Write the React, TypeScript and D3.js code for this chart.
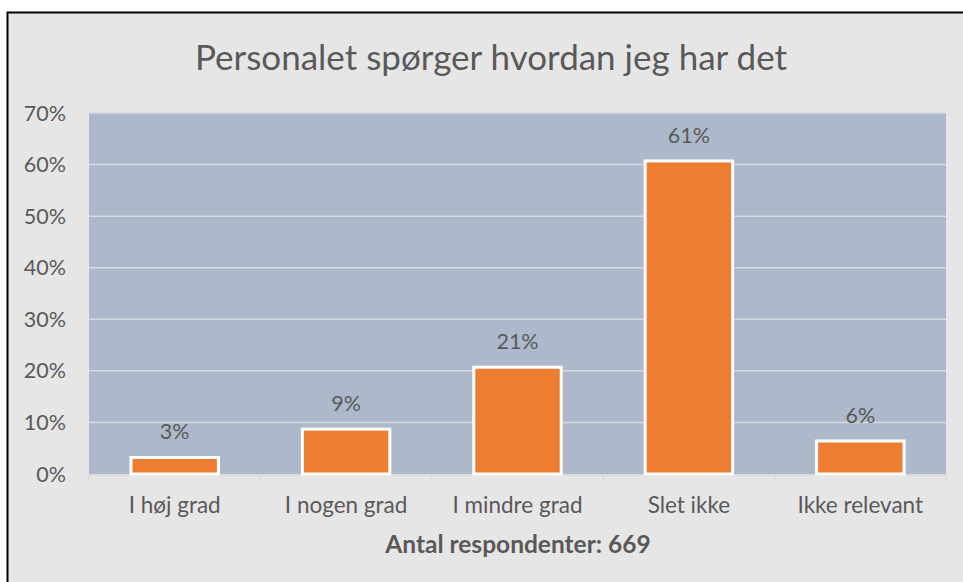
import React, { useEffect, useRef } from 'react';
import * as d3 from 'd3';

const categories = ['I høj grad', 'I nogen grad', 'I mindre grad', 'Slet ikke', 'Ikke relevant'];
const values = [0.032, 0.087, 0.207, 0.607, 0.064];
const yTicks = [0, 0.1, 0.2, 0.3, 0.4, 0.5, 0.6, 0.7];
const title = 'Personalet spørger hvordan jeg har det';
const xTitle = 'Antal respondenter: 669';

const App = () => {
  const chartRef = useRef<SVGSVGElement>(null);

  useEffect(() => {
    const width = 963;
    const height = 582;
    const margin = { top: 113, right: 17, bottom: 108, left: 89 };
    const font = 'Lato, "Open Sans", sans-serif';
    const textColor = '#595959';

    const svg = d3.select(chartRef.current);
    svg.selectAll('*').remove();

    // chart frame
    svg
      .append('rect')
      .attr('x', 7.5)
      .attr('y', 12.5)
      .attr('width', width)
      .attr('height', height)
      .attr('fill', '#e7e6e6')
      .attr('stroke', '#000')
      .attr('stroke-width', 2);

    const x = d3
      .scaleBand()
      .domain(categories)
      .range([margin.left, width - margin.right])
      .paddingInner(0.49)
      .paddingOuter(0.245);

    const y = d3
      .scaleLinear()
      .domain([0, 0.7])
      .range([height - margin.bottom, margin.top]);

    // plot area
    svg
      .append('rect')
      .attr('x', margin.left)
      .attr('y', margin.top)
      .attr('width', width - margin.right - margin.left)
      .attr('height', y(0) - margin.top)
      .attr('fill', '#adb9ca');

    svg
      .append('g')
      .selectAll('line')
      .data(yTicks.slice(1))
      .enter()
      .append('line')
      .attr('x1', margin.left)
      .attr('x2', width - margin.right)
      .attr('y1', (d) => y(d))
      .attr('y2', (d) => y(d))
      .attr('stroke', '#d6dae1')
      .attr('stroke-width', 1.5);

    // y labels
    svg
      .append('g')
      .selectAll('text')
      .data(yTicks)
      .enter()
      .append('text')
      .attr('x', 66)
      .attr('y', (d) => y(d))
      .attr('dy', '0.35em')
      .attr('text-anchor', 'end')
      .attr('font-family', font)
      .attr('font-size', 21.5)
      .attr('fill', textColor)
      .text((d) => d3.format('.0%')(d));

    // x axis line and ticks
    const base = y(0);
    svg
      .append('line')
      .attr('x1', margin.left)
      .attr('x2', width - margin.right)
      .attr('y1', base + 1)
      .attr('y2', base + 1)
      .attr('stroke', '#d9d9d9')
      .attr('stroke-width', 1.5);

    const step = x.step();
    const bounds = d3.range(categories.length + 1).map((i) => margin.left + i * step);
    svg
      .append('g')
      .selectAll('line')
      .data(bounds)
      .enter()
      .append('line')
      .attr('x1', (d) => d)
      .attr('x2', (d) => d)
      .attr('y1', base)
      .attr('y2', base + 7)
      .attr('stroke', '#d9d9d9')
      .attr('stroke-width', 1.5);

    // bars
    svg
      .append('g')
      .selectAll('rect')
      .data(values)
      .enter()
      .append('rect')
      .attr('x', (d, i) => x(categories[i]))
      .attr('y', (d) => y(d))
      .attr('width', x.bandwidth())
      .attr('height', (d) => base - y(d))
      .attr('fill', '#ed7d31')
      .attr('stroke', '#fff')
      .attr('stroke-width', 3);

    // data labels
    svg
      .append('g')
      .selectAll('text')
      .data(values)
      .enter()
      .append('text')
      .attr('x', (d, i) => x(categories[i]) + x.bandwidth() / 2)
      .attr('y', (d) => y(d) - 18)
      .attr('text-anchor', 'middle')
      .attr('font-family', font)
      .attr('font-size', 21.5)
      .attr('fill', textColor)
      .text((d) => d3.format('.0%')(d));

    // category labels
    svg
      .append('g')
      .selectAll('text')
      .data(categories)
      .enter()
      .append('text')
      .attr('x', (d) => x(d) + x.bandwidth() / 2)
      .attr('y', 513)
      .attr('text-anchor', 'middle')
      .attr('font-family', font)
      .attr('font-size', 22.5)
      .attr('fill', textColor)
      .text((d) => d);

    svg
      .append('text')
      .attr('x', 518)
      .attr('y', 553)
      .attr('text-anchor', 'middle')
      .attr('font-family', font)
      .attr('font-size', 24.5)
      .attr('font-weight', 'bold')
      .attr('fill', textColor)
      .text(xTitle);

    svg
      .append('text')
      .attr('x', 491)
      .attr('y', 70)
      .attr('text-anchor', 'middle')
      .attr('font-family', font)
      .attr('font-size', 35)
      .attr('fill', textColor)
      .text(title);
  }, []);

  return (
    <svg
      ref={chartRef}
      width={963}
      height={582}
      style={{ position: 'absolute', left: 0, top: 0 }}
    />
  );
};

export default App;
